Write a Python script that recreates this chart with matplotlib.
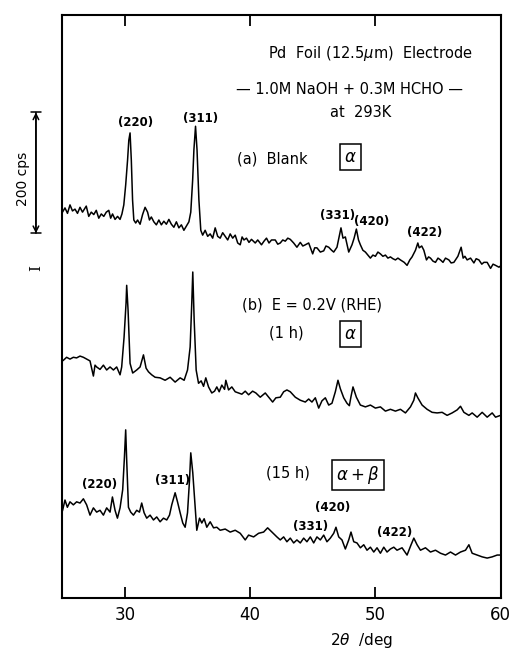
import matplotlib
matplotlib.use('Agg')
import matplotlib.pyplot as plt
import matplotlib.transforms as mtransforms

# 2theta (deg) / intensity (cps)
two_theta_a = [25.0, 25.2, 25.4, 25.6, 25.8, 26.0, 26.2, 26.4, 26.6, 26.9, 27.1, 27.3, 27.5, 27.7,
               27.9, 28.1, 28.3, 28.5, 28.7, 28.85, 29.0, 29.2, 29.4, 29.6, 29.75, 29.9, 30.05,
               30.2, 30.3, 30.4, 30.5, 30.6, 30.7, 30.85, 31.0, 31.2, 31.4, 31.6, 31.8, 31.95,
               32.1, 32.3, 32.5, 32.7, 32.9, 33.1, 33.3, 33.5, 33.7, 33.9, 34.1, 34.3, 34.5,
               34.7, 34.9, 35.1, 35.25, 35.4, 35.5, 35.63, 35.75, 35.9, 36.05, 36.2, 36.4, 36.6,
               36.8, 37.0, 37.2, 37.4, 37.6, 37.8, 38.0, 38.2, 38.4, 38.6, 38.8, 39.0, 39.2,
               39.35, 39.5, 39.7, 39.9, 40.1, 40.4, 40.6, 40.9, 41.1, 41.3, 41.5, 41.7, 42.0,
               42.2, 42.4, 42.6, 42.8, 43.0, 43.2, 43.47, 43.73, 44.0, 44.2, 44.4, 44.67, 44.99,
               45.15, 45.33, 45.6, 45.87, 46.05, 46.27, 46.5, 46.67, 46.93, 47.1, 47.25, 47.41,
               47.6, 47.87, 48.13, 48.3, 48.48, 48.65, 48.8, 49.0, 49.2, 49.4, 49.6, 49.8, 50.0,
               50.2, 50.4, 50.6, 50.8, 51.0, 51.2, 51.4, 51.6, 51.8, 52.0, 52.3, 52.53, 52.75,
               52.93, 53.2, 53.39, 53.5, 53.7, 53.87, 54.08, 54.25, 54.4, 54.6, 54.8, 55.0, 55.2,
               55.4, 55.6, 55.87, 56.05, 56.27, 56.59, 56.85, 57.01, 57.15, 57.33, 57.6, 57.87,
               58.05, 58.27, 58.5, 58.67, 58.93, 59.2, 59.4, 59.6, 59.87, 60.0]
cps_a = [638, 645, 636, 650, 640, 643, 636, 646, 638, 648, 631, 638, 634, 641,
         628, 635, 631, 638, 641, 628, 635, 626, 631, 626, 635, 650, 683,
         724, 757, 769, 724, 658, 625, 620, 625, 618, 634, 646, 638, 625,
         630, 622, 617, 625, 617, 623, 618, 626, 618, 613, 622, 612, 617,
         608, 615, 622, 638, 691, 741, 780, 741, 658, 608, 600, 608, 598,
         602, 595, 612, 598, 595, 604, 598, 592, 602, 595, 600, 587, 584,
         597, 592, 595, 588, 593, 587, 592, 584, 590, 595, 587, 592, 592,
         585, 587, 592, 590, 595, 593, 587, 580, 588, 582, 584, 587, 569,
         579, 579, 572, 574, 582, 580, 575, 572, 580, 597, 612, 595,
         597, 572, 584, 595, 610, 592, 584, 575, 572, 567, 562, 567, 565,
         572, 569, 565, 567, 562, 564, 561, 559, 562, 559, 555, 550, 559,
         564, 575, 587, 579, 582, 575, 559, 564, 562, 557, 555, 562, 559,
         555, 562, 559, 554, 555, 565, 580, 562, 565, 559, 562, 554,
         561, 559, 552, 555, 555, 545, 552, 550, 547, 549]

two_theta_b = [25.07, 25.33, 25.6, 25.87, 26.13, 26.4, 26.67, 26.93, 27.2, 27.47, 27.6, 27.73,
               28.0, 28.27, 28.53, 28.8, 29.07, 29.33, 29.6, 29.73, 29.92, 30.08, 30.13, 30.24,
               30.4, 30.61, 30.93, 31.2, 31.47, 31.68, 31.87, 32.13, 32.4, 32.8, 33.2, 33.6,
               34.0, 34.4, 34.72, 34.99, 35.2, 35.33, 35.41, 35.52, 35.68, 35.87, 36.08, 36.27,
               36.45, 36.67, 36.93, 37.15, 37.33, 37.52, 37.73, 37.95, 38.05, 38.27, 38.53, 38.8,
               39.07, 39.33, 39.6, 39.87, 40.19, 40.45, 40.8, 41.2, 41.52, 41.79, 42.05, 42.4,
               42.67, 42.93, 43.2, 43.6, 44.0, 44.4, 44.67, 44.93, 45.2, 45.47, 45.73, 46.0,
               46.27, 46.53, 46.8, 47.01, 47.2, 47.47, 47.73, 47.92, 48.05, 48.21, 48.48, 48.8,
               49.2, 49.6, 50.0, 50.4, 50.8, 51.2, 51.6, 52.0, 52.4, 52.8, 53.07, 53.2, 53.39,
               53.73, 54.13, 54.53, 54.93, 55.33, 55.73, 56.13, 56.53, 56.8, 57.07, 57.47, 57.73,
               58.13, 58.53, 58.93, 59.33, 59.6, 59.87, 60.0]
cps_b = [393, 398, 395, 398, 397, 400, 398, 395, 392, 367, 385, 382,
         378, 385, 377, 382, 377, 382, 369, 382, 431, 488, 517, 476,
         388, 372, 377, 382, 402, 380, 374, 369, 365, 364, 360, 365,
         357, 364, 360, 377, 415, 488, 539, 460, 377, 355, 359, 350,
         364, 349, 339, 342, 349, 341, 352, 345, 360, 344, 349, 341,
         339, 337, 342, 336, 342, 339, 332, 339, 331, 324, 331, 332,
         341, 344, 341, 332, 327, 324, 329, 324, 331, 314, 326, 331,
         319, 322, 341, 360, 346, 331, 322, 318, 333, 349, 332, 319,
         316, 319, 314, 316, 309, 312, 309, 312, 306, 316, 327, 339, 331,
         319, 312, 307, 306, 307, 302, 306, 311, 317, 307, 302, 306,
         299, 307, 299, 306, 299, 301, 302]

two_theta_c = [25.01, 25.2, 25.39, 25.6, 25.87, 26.13, 26.4, 26.67, 26.93, 27.2, 27.47, 27.73,
               28.0, 28.27, 28.53, 28.8, 28.99, 29.2, 29.39, 29.6, 29.81, 29.95, 30.05, 30.13,
               30.27, 30.45, 30.67, 30.93, 31.15, 31.33, 31.52, 31.73, 32.0, 32.27, 32.53, 32.8,
               33.07, 33.33, 33.55, 33.73, 34.0, 34.19, 34.4, 34.61, 34.8, 34.99, 35.15, 35.25,
               35.41, 35.6, 35.73, 35.95, 36.13, 36.32, 36.53, 36.8, 37.07, 37.33, 37.6, 38.0,
               38.4, 38.8, 39.2, 39.6, 39.87, 40.27, 40.67, 41.07, 41.39, 41.73, 42.13, 42.4,
               42.67, 42.93, 43.2, 43.47, 43.73, 44.0, 44.27, 44.53, 44.8, 45.07, 45.33, 45.6,
               45.87, 46.13, 46.4, 46.67, 46.85, 47.07, 47.33, 47.6, 47.87, 48.05, 48.27, 48.53,
               48.8, 49.07, 49.33, 49.6, 49.87, 50.13, 50.4, 50.67, 50.93, 51.2, 51.47, 51.73,
               52.13, 52.53, 52.85, 53.07, 53.33, 53.6, 54.0, 54.4, 54.8, 55.2, 55.6, 56.0,
               56.4, 56.8, 57.2, 57.47, 57.73, 58.13, 58.53, 58.93, 59.33, 59.73, 60.0]
cps_c = [145, 162, 150, 159, 154, 159, 157, 164, 154, 137, 149, 142,
         145, 137, 149, 142, 167, 145, 132, 149, 179, 233, 278, 228,
         150, 142, 137, 145, 142, 157, 141, 132, 137, 129, 134, 126,
         132, 129, 137, 154, 174, 159, 141, 124, 117, 141, 195, 240,
         207, 150, 112, 132, 124, 131, 117, 126, 116, 117, 112, 114,
         109, 112, 107, 96, 104, 101, 107, 109, 116, 109, 101, 96,
         101, 93, 99, 91, 96, 91, 99, 93, 101, 91, 101, 96,
         104, 93, 99, 107, 117, 101, 96, 81, 96, 109, 93, 91,
         83, 88, 79, 84, 76, 83, 74, 84, 76, 81, 84, 79,
         83, 71, 88, 99, 88, 79, 83, 76, 79, 74, 71, 76,
         71, 76, 79, 88, 74, 71, 68, 66, 68, 71, 71]

x_ticks = [30, 40, 50, 60]

fig = plt.figure(figsize=(5.1, 6.49), dpi=100)
ax = fig.add_axes([0.1225, 0.0786, 0.859, 0.8983])

for tt, ii in [(two_theta_a, cps_a), (two_theta_b, cps_b), (two_theta_c, cps_c)]:
    ax.plot(tt, ii, color='black', lw=1.1)

ax.set_xlim(25, 60)
ax.set_ylim(0, 964)
ax.set_xticks(x_ticks)
ax.tick_params(axis='x', direction='in', length=8, width=1.3, top=True,
               labelsize=12, pad=6)
ax.set_yticks([])
for s in ax.spines.values():
    s.set_linewidth(1.5)
fig.text(362 / 510, 1 - 640 / 649, '2$\\theta$  /deg', ha='center', va='center', fontsize=11)

fnt = 'DejaVu Sans'
ax.text(49.6, 901, 'Pd  Foil (12.5$\\mu$m)  Electrode', ha='center', va='center', fontsize=10.5, family=fnt)
ax.text(47.9, 840, '\u2014 1.0M NaOH + 0.3M HCHO \u2014', ha='center', va='center', fontsize=10.5, family=fnt)
ax.text(48.8, 803, 'at  293K', ha='center', va='center', fontsize=10.5, family=fnt)

box = dict(boxstyle='square,pad=0.25', fc='none', ec='black', lw=1.1)
ax.text(41.8, 726, '(a)  Blank', ha='center', va='center', fontsize=10.5, family=fnt)
ax.text(48.0, 729, '$\\alpha$', ha='center', va='center', fontsize=12, bbox=box)
ax.text(44.9, 484, '(b)  E = 0.2V (RHE)', ha='center', va='center', fontsize=10.5, family=fnt)
ax.text(42.9, 438, '(1 h)', ha='center', va='center', fontsize=10.5, family=fnt)
ax.text(48.0, 436, '$\\alpha$', ha='center', va='center', fontsize=12, bbox=box)
ax.text(43.0, 207, '(15 h)', ha='center', va='center', fontsize=10.5, family=fnt)
ax.text(48.6, 203, '$\\alpha + \\beta$', ha='center', va='center', fontsize=12, bbox=box)

# Miller index labels
hkl = [('(220)', 30.8, 787), ('(311)', 36.0, 793), ('(331)', 47.0, 632),
       ('(420)', 49.7, 622), ('(422)', 53.9, 604),
       ('(220)', 28.0, 187), ('(311)', 33.8, 195), ('(420)', 46.6, 149),
       ('(331)', 44.8, 119), ('(422)', 51.5, 109)]
for lab, xx, yy in hkl:
    ax.text(xx, yy, lab, ha='center', va='center', fontsize=8.5, family=fnt, weight='bold')

# 200 cps scale bar outside the axes
trans = mtransforms.blended_transform_factory(ax.transAxes, ax.transData)
ax.annotate('', xy=(-0.0606, 803), xytext=(-0.0606, 603), xycoords=trans, textcoords=trans,
            arrowprops=dict(arrowstyle='<->', lw=1.1, color='black', shrinkA=0, shrinkB=0),
            annotation_clip=False)
ax.annotate('', xy=(-0.0606, 803), xytext=(-0.0606, 603), xycoords=trans, textcoords=trans,
            arrowprops=dict(arrowstyle='|-|,widthA=0.35,widthB=0.35', lw=1.1, color='black',
                            shrinkA=0, shrinkB=0),
            annotation_clip=False)
ax.text(-0.09, 693, '200 cps', rotation=90, ha='center', va='center', fontsize=10,
        family=fnt, transform=trans)
ax.text(-0.0606, 545, 'I', rotation=90, ha='center', va='center', fontsize=11,
        family='DejaVu Serif', transform=trans)

fig.savefig('out.png', dpi=100)
